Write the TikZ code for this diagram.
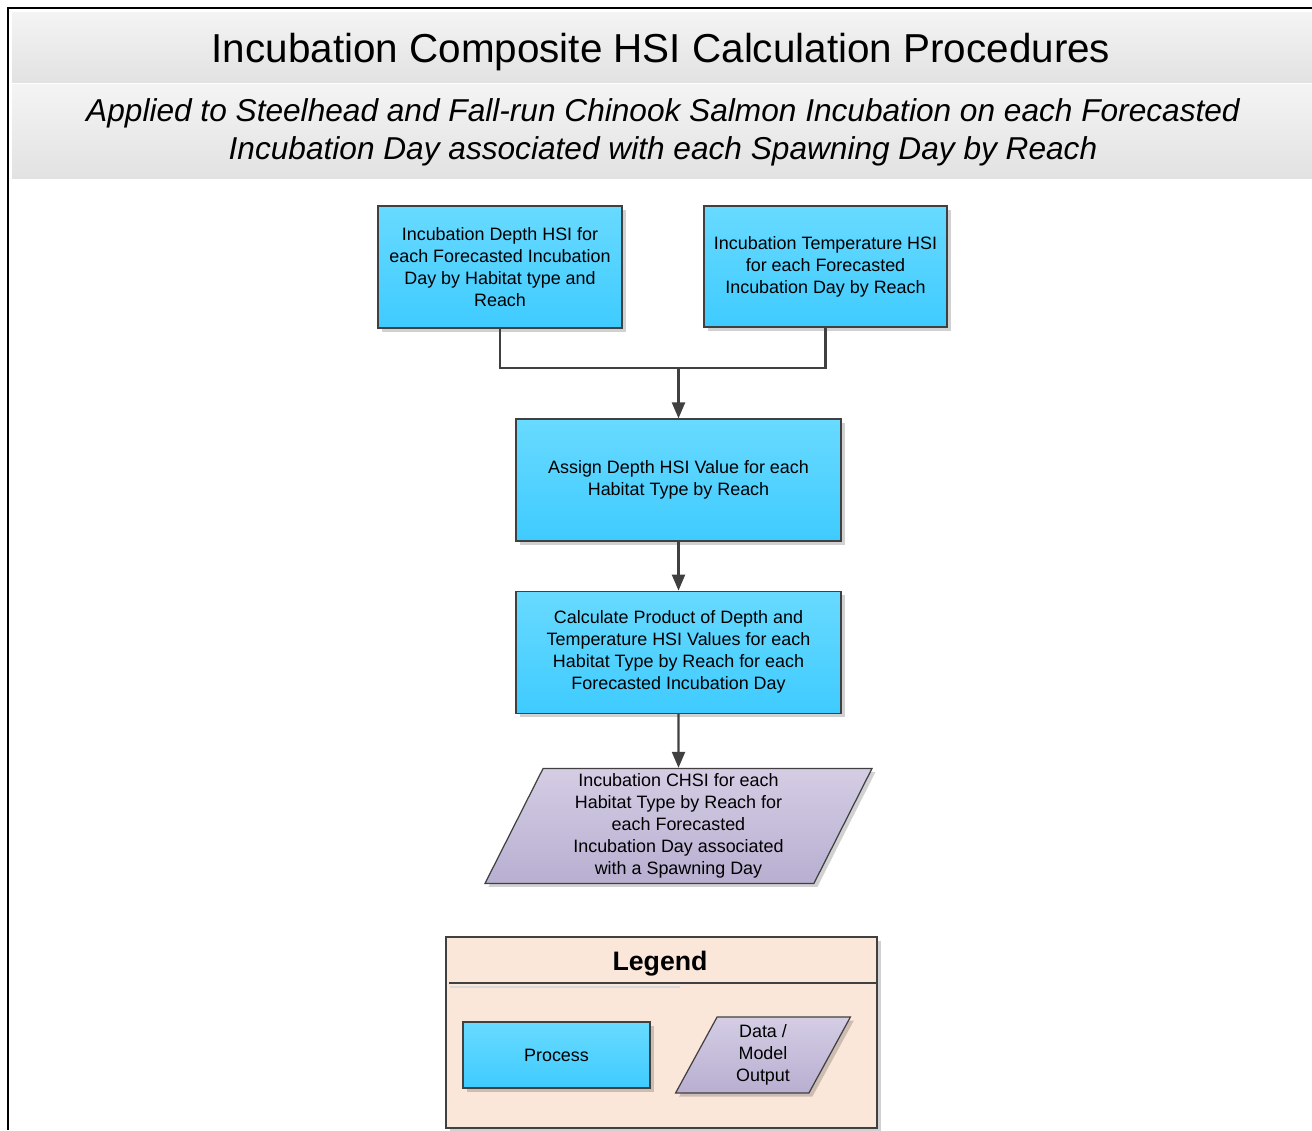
\documentclass[tikz,border=0pt]{standalone}
\usepackage{fontspec}
\setmainfont{Liberation Sans}
\usepackage{xcolor}
\usepackage{tikz}
\usetikzlibrary{shapes.geometric,arrows.meta,positioning,shadows}

\definecolor{proctop}{HTML}{68DAFF}
\definecolor{procbot}{HTML}{3FCBFF}
\definecolor{datatop}{HTML}{D4CDE4}
\definecolor{databot}{HTML}{B8AFD1}
\definecolor{legendfill}{HTML}{FBE6DA}
\definecolor{edgegray}{HTML}{404040}
\definecolor{bandtop}{HTML}{F4F4F4}
\definecolor{bandbot}{HTML}{E2E2E2}

\begin{document}
\begin{tikzpicture}[
    every node/.style={font=\fontsize{10.2}{12.5}\selectfont},
    boxshadow/.style={drop shadow={shadow xshift=0.07cm, shadow yshift=-0.07cm, fill=black, opacity=0.18}},
    procbox/.style={draw=edgegray, line width=0.7pt, top color=proctop, bottom color=procbot,
        align=center, inner sep=2pt, boxshadow},
    databox/.style={trapezium, trapezium left angle=67, trapezium right angle=113,
        trapezium stretches=true, draw=edgegray, line width=0.7pt,
        top color=datatop, bottom color=databot, align=center, inner sep=1pt, boxshadow},
    link/.style={draw=edgegray, line width=1.3pt},
    flow/.style={link, -{Triangle[length=0.32cm, width=0.26cm]}}
]
\useasboundingbox (0,0) rectangle (26.24,-22.6);

% header
\fill[top color=bandtop, bottom color=bandbot] (0.24,-0.24) rectangle (26.24,-1.64);
\fill[top color=bandtop, bottom color=bandbot] (0.24,-1.68) rectangle (26.24,-3.56);
\draw[line width=1.1pt] (0.16,-22.6) -- (0.16,-0.16) -- (26.24,-0.16);
\node[font=\fontsize{23}{27}\selectfont] (title) at (13.22,-1.04)
    {Incubation Composite HSI Calculation Procedures};
\node[font=\fontsize{18}{21.6}\selectfont\itshape, align=center] (subtitle) at (13.26,-2.64)
    {Applied to Steelhead and Fall-run Chinook Salmon Incubation on each Forecasted\\
     Incubation Day associated with each Spawning Day by Reach};

% flow
\node[procbox, minimum width=4.88cm, minimum height=2.44cm] (depth) at (10.0,-5.34)
    {Incubation Depth HSI for\\each Forecasted Incubation\\Day by Habitat type and\\Reach};
\node[procbox, minimum width=4.86cm, minimum height=2.42cm] (temp) at (16.51,-5.33)
    {Incubation Temperature HSI\\for each Forecasted\\Incubation Day by Reach};
\node[procbox, minimum width=6.5cm, minimum height=2.44cm] (assign) at (13.57,-9.6)
    {Assign Depth HSI Value for each\\Habitat Type by Reach};
\node[procbox, minimum width=6.5cm, minimum height=2.44cm] (product) [below=0.98cm of assign]
    {Calculate Product of Depth and\\Temperature HSI Values for each\\Habitat Type by Reach for each\\Forecasted Incubation Day};
\node[databox, minimum width=7.76cm, minimum height=2.3cm] (chsi) [below=1.08cm of product]
    {Incubation CHSI for each\\Habitat Type by Reach for\\each Forecasted\\Incubation Day associated\\with a Spawning Day};

\coordinate (join) at (assign.north |- 0,-7.36);
\draw[link] (depth.south) |- (join) -| (temp.south);
\draw[flow] (join) -- (assign.north);
\draw[flow] (assign) -- (product);
\draw[flow] (product) -- (chsi);

% legend
\node[draw=edgegray, line width=0.7pt, fill=legendfill, minimum width=8.62cm, minimum height=3.82cm,
    boxshadow] (legend) at (13.23,-20.65) {};
\node[font=\fontsize{15.2}{18}\selectfont\bfseries] (legendtitle) at (13.2,-19.28) {Legend};
\draw[edgegray, line width=0.6pt] ([xshift=0.08cm]legend.west |- 0,-19.66) -- (legend.east |- 0,-19.66);
\draw[black!15, line width=0.8pt] ([xshift=0.1cm]legend.west |- 0,-19.74) -- (13.6,-19.74);
\node[procbox, minimum width=3.74cm, minimum height=1.32cm] (keyproc) at (11.13,-21.1) {Process};
\node[databox, trapezium left angle=68, trapezium right angle=112,
    minimum width=3.52cm, minimum height=1.52cm] (keydata) at (15.26,-21.1) {Data /\\Model\\Output};
\end{tikzpicture}
\end{document}
